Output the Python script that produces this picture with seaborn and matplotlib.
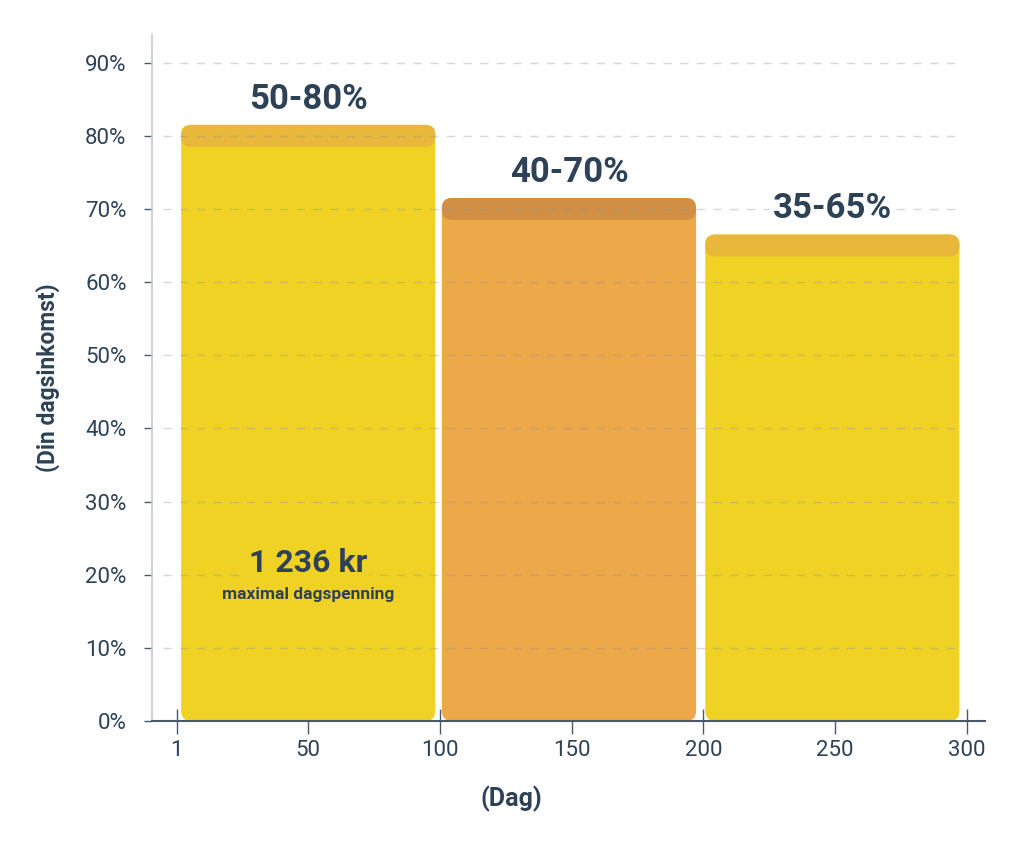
import numpy as np
import pandas as pd
import matplotlib
matplotlib.use("Agg")
import matplotlib.pyplot as plt
import seaborn as sns
from matplotlib.patches import FancyBboxPatch

# data
day_mid = [50, 149, 249]
share = [80, 70, 65]
range_labels = ["50-80%", "40-70%", "35-65%"]
x_ticks = [0, 50, 100, 150, 200, 250, 300]
x_ticklabels = ["1", "50", "100", "150", "200", "250", "300"]
y_ticks = [0, 10, 20, 30, 40, 50, 60, 70, 80, 90]

bar_colors = ["#F0D225", "#EDA84A", "#F0D225"]
band_colors = ["#E9B73A", "#D08F42", "#E9B73A"]
navy = "#2E4257"

sns.set_theme(style="white")
plt.rcParams["font.family"] = ["Roboto", "DejaVu Sans"]

fig = plt.figure(figsize=(10.24, 8.47), dpi=100)
ax = fig.add_axes([0.148, 0.1488, 0.814, 0.81])

cap = 1.5
df = pd.DataFrame({"dag": day_mid, "andel": [s + cap for s in share]})
sns.barplot(data=df, x="dag", y="andel", native_scale=True, width=0.975,
            palette=bar_colors, hue="dag", legend=False, ax=ax, zorder=1)

ax.set_xlim(-9.5, 307)
ax.set_ylim(0, 93.8)

# rounded bars
rx = 3.8
asp = 0.36
for p, col, bcol, val in zip(list(ax.patches), bar_colors, band_colors, share):
    x0, y0, w, h = p.get_x(), p.get_y(), p.get_width(), p.get_height()
    p.remove()
    ax.add_patch(FancyBboxPatch((x0, y0), w, h,
                                boxstyle=f"round,pad=0,rounding_size={rx}",
                                mutation_aspect=asp, fc=col, ec="none", zorder=1))
    ax.add_patch(FancyBboxPatch((x0, val - cap), w, 2 * cap,
                                boxstyle=f"round,pad=0,rounding_size={rx}",
                                mutation_aspect=asp, fc=bcol, ec="none", zorder=1.1))

# dashed grid on top of bars
for yv in y_ticks[1:]:
    ax.plot([-5, 298], [yv, yv], color="#8A9099", alpha=0.35, lw=1,
            dashes=(6, 6), zorder=2)

for xm, val, lab in zip(day_mid, share, range_labels):
    ax.text(xm, val + 5, lab, ha="center", va="center", fontsize=25,
            fontweight="bold", color=navy, zorder=5,
            bbox=dict(fc="white", ec="none", pad=2))

ax.text(day_mid[0], 21.6, "1 236 kr", ha="center", va="center", fontsize=23,
        fontweight="bold", color=navy, zorder=5,
        bbox=dict(fc=bar_colors[0], ec="none", pad=2))
ax.text(day_mid[0], 17.3, "maximal dagspenning", ha="center", va="center",
        fontsize=12.5, fontweight="bold", color=navy, zorder=5)

ax.set_xticks(x_ticks)
ax.set_xticklabels(x_ticklabels)
ax.set_yticks(y_ticks)
ax.set_yticklabels([f"{v}%" for v in y_ticks])

for s in ["top", "right"]:
    ax.spines[s].set_visible(False)
ax.spines["left"].set_color("#C3C9D2")
ax.spines["left"].set_linewidth(1.2)
ax.spines["bottom"].set_color("#4A5A6C")
ax.spines["bottom"].set_linewidth(1.5)

ax.tick_params(axis="y", left=True, length=6, width=1, color="#4A5A6C",
               labelsize=16, labelcolor=navy, pad=12)
ax.tick_params(axis="x", bottom=True, direction="inout", length=18, width=1,
               color="#4A5A6C", labelsize=16, labelcolor=navy, pad=5)

ax.set_xlabel("(Dag)", fontsize=18, fontweight="bold", color=navy)
ax.set_ylabel("(Din dagsinkomst)", fontsize=16.5, fontweight="bold", color=navy)
ax.xaxis.set_label_coords(0.432, -0.095)
ax.yaxis.set_label_coords(-0.11, 0.5)

fig.savefig("out.png", dpi=100, facecolor="white")
